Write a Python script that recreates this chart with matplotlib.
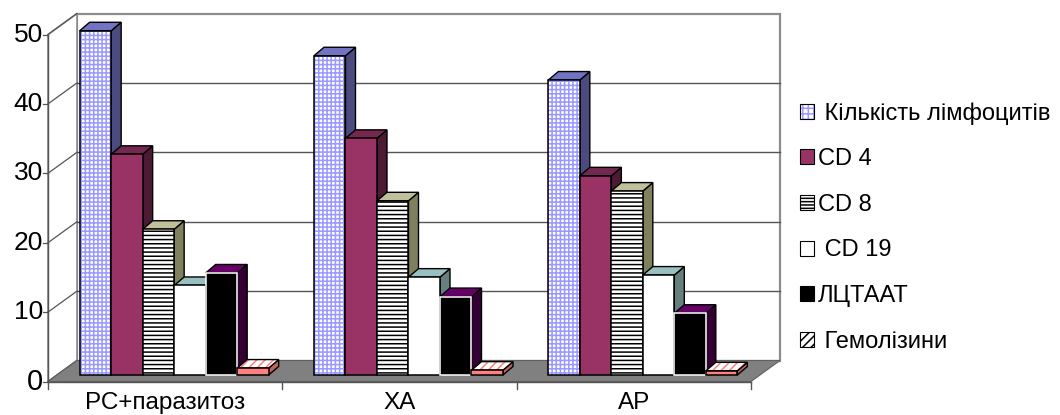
import matplotlib
matplotlib.use("Agg")
import matplotlib.pyplot as plt
from matplotlib.patches import Polygon, Patch

plt.rcParams['font.family'] = ['Liberation Sans', 'DejaVu Sans']
plt.rcParams['hatch.linewidth'] = 1.1

categories = ['РС+паразитоз', 'ХА', 'АР']
legend_labels = [' Кількість лімфоцитів', 'CD 4', 'CD 8', ' CD 19', 'ЛЦТААТ', ' Гемолізини']
lymph = [49.6, 46.0, 42.5]
cd4 = [31.8, 34.1, 28.7]
cd8 = [21.0, 25.1, 26.5]
cd19 = [12.9, 14.1, 14.4]
lctaat = [14.7, 11.3, 8.9]
hemol = [1.0, 0.7, 0.6]
y_ticks = [0, 10, 20, 30, 40, 50]

series = [lymph, cd4, cd8, cd19, lctaat, hemol]

# face, hatch, hatch colour, edge, top, side
styles = [
    ('white', '++++', '#9999FF', 'black', '#7373C4', '#4B4B80'),
    ('#993366', None, None, 'black', '#73284F', '#4D1A33'),
    ('white', '----', 'black', 'black', '#C0C09A', '#80805F'),
    ('white', None, None, 'black', '#99C0C0', '#668080'),
    ('black', None, None, 'white', '#660066', '#330033'),
    ('#FF8080', None, None, 'black', 'hatch', '#C06060'),
]

W, H = 1060, 415
X0, SX = 48, 234.33   # pixel of first category edge, pixels per category
Y0, SY = 381.5, 6.94  # pixel of value 0, pixels per unit

fig = plt.figure(figsize=(W / 100, H / 100), dpi=100)
ax = fig.add_axes([0, 0, 1, 1])
ax.set_xlim(-X0 / SX, (W - X0) / SX)
ax.set_ylim(-(H - Y0) / SY, Y0 / SY)
ax.axis('off')


def dx(px):
    return px / SX


def dy(px):
    return px / SY


ncat = len(categories)
ymax = y_ticks[-1]
FDX, FDY = dx(29), dy(21)      # floor depth
BX, BY = dx(9), dy(6.5)        # bar front plane
DX, DY = dx(10), dy(8.5)       # bar depth
wall = '#8C8C8C'

# walls
ax.add_patch(Polygon([(FDX, FDY), (ncat + FDX, FDY), (ncat + FDX, ymax + FDY), (FDX, ymax + FDY)],
                     fc='white', ec=wall, lw=1.6, zorder=1))
ax.add_patch(Polygon([(0, 0), (FDX, FDY), (FDX, ymax + FDY), (0, ymax)],
                     fc='white', ec=wall, lw=1.2, zorder=1))
for v in y_ticks:
    ax.plot([0, FDX], [v, v + FDY], color='#555555', lw=0.9, zorder=1.5)
    ax.plot([-dx(5), 0], [v, v], color='#555555', lw=0.9, zorder=1.5)
    ax.text(-dx(5), v, str(v), ha='right', va='center', fontsize=21 if v == 0 else 19,
            color='black')
for v in y_ticks[1:-1]:
    ax.plot([FDX, ncat + FDX], [v + FDY, v + FDY], color='#555555', lw=1.0, zorder=1.5)

# floor
ax.add_patch(Polygon([(0, 0), (ncat, 0), (ncat + FDX, FDY), (FDX, FDY)],
                     fc='#808080', ec='#606060', lw=0.8, zorder=2))
ax.plot([0, 0], [0, ymax], color='#555555', lw=1.0, zorder=2.5)
ax.plot([0, ncat], [0, 0], color='#555555', lw=1.0, zorder=2.5)
for k in range(ncat + 1):
    ax.plot([k, k], [0, -dy(7)], color='#555555', lw=1.0, zorder=2.5)
for i, c in enumerate(categories):
    ax.text(i + 0.5, -dy(27.5), c, ha='center', va='baseline', fontsize=17.5)

# bars
bw = dx(31.5)
n = len(series)
for j, (vals, st) in enumerate(zip(series, styles)):
    face, hatch, hc, edge, top, side = st
    xs = [i + 0.5 + (j - (n - 1) / 2) * bw + BX for i in range(ncat)]
    z = 10 + 2 * j
    bars = ax.bar(xs, vals, width=bw, bottom=BY, color=face, hatch=hatch,
                  edgecolor=hc if hc else face, linewidth=0, zorder=z + 1)
    ax.bar(xs, vals, width=bw, bottom=BY, fill=False, edgecolor=edge, linewidth=1.1, zorder=z + 1.2)
    for r in bars:
        x0, y0 = r.get_x(), r.get_y()
        x1, y1 = x0 + r.get_width(), y0 + r.get_height()
        ax.add_patch(Polygon([(x1, y0), (x1 + DX, y0 + DY), (x1 + DX, y1 + DY), (x1, y1)],
                             fc=side, ec='black', lw=1.0, zorder=z))
        tp = [(x0, y1), (x1, y1), (x1 + DX, y1 + DY), (x0 + DX, y1 + DY)]
        if top == 'hatch':
            ax.add_patch(Polygon(tp, fc='white', ec='#FF8080', hatch='////', lw=0, zorder=z))
            ax.add_patch(Polygon(tp, fill=False, ec='black', lw=1.0, zorder=z + 0.1))
        else:
            ax.add_patch(Polygon(tp, fc=top, ec='black', lw=1.0, zorder=z))

# legend
handles = [
    (Patch(fc='white', ec='#9999FF', hatch='+++', lw=0), Patch(fill=False, ec='black', lw=0.8)),
    Patch(fc='#993366', ec='black', lw=0.8),
    Patch(fc='white', ec='black', hatch='-----', lw=0.8),
    Patch(fc='white', ec='black', lw=0.8),
    Patch(fc='black', ec='black', lw=0.8),
    Patch(fc='white', ec='black', hatch='////', lw=0.8),
]
ax.legend(handles, legend_labels, loc='upper left', bbox_to_anchor=(800 / W, 1 - 102 / H),
          bbox_transform=fig.transFigure, frameon=False, fontsize=17, borderpad=0,
          borderaxespad=0, handlelength=0.6, handleheight=0.6, handletextpad=0.15,
          labelspacing=1.0)

fig.savefig('out.png', dpi=100)
